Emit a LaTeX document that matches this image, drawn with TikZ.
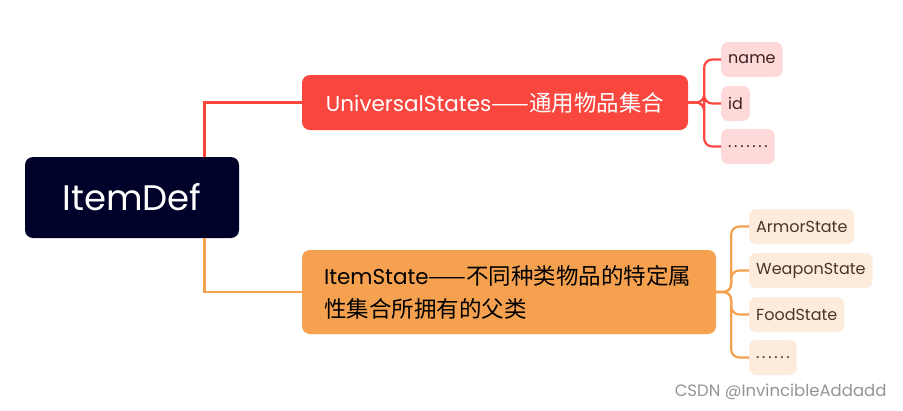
\documentclass[tikz,border=0pt]{standalone}
\usepackage{fontspec}
\setmainfont{Poppins}
\newfontfamily\cjk{Noto Sans CJK SC}
\definecolor{rootblue}{HTML}{000229}
\definecolor{redmain}{HTML}{F9473F}
\definecolor{orangemain}{HTML}{F5A14F}
\definecolor{pinkleaf}{HTML}{FFD9D9}
\definecolor{peachleaf}{HTML}{FDEBDC}
\definecolor{leaftext}{HTML}{3B2020}
\definecolor{leaftextb}{HTML}{4A3526}
\newcommand{\cjktext}[1]{{\cjk\fontsize{22.5}{33}\selectfont #1}}
\begin{document}
\begin{tikzpicture}[x=1pt, y=-1pt,
	box/.style={rounded corners=8pt, inner sep=0pt},
	rootbox/.style={box, fill=rootblue, text=white, font=\fontsize{35.5}{40}\selectfont},
	redbox/.style={box, fill=redmain, text=white, font=\fontsize{21.5}{24}\selectfont},
	orangebox/.style={box, fill=orangemain, text=black, font=\fontsize{21.5}{33}\selectfont},
	leafbox/.style={rounded corners=7pt, inner xsep=7pt, inner ysep=0pt, minimum height=35pt, anchor=west, font=\fontsize{16}{18}\selectfont},
	pinkleafbox/.style={leafbox, fill=pinkleaf, text=leaftext},
	peachleafbox/.style={leafbox, fill=peachleaf, text=leaftextb},
	redline/.style={draw=redmain, line width=2.6pt},
	orangeline/.style={draw=orangemain, line width=2.6pt}]
	\useasboundingbox (0,0) rectangle (903,410);

	% 根节点与两个主分支
	\node[rootbox, minimum width=214pt, minimum height=81pt] (root) at (132,197.5) {ItemDef};
	\node[redbox, minimum width=386pt, minimum height=55pt] (univ) at (495,102.5) {UniversalStates\cjktext{——通用物品集合}};
	\node[orangebox, minimum width=414pt, minimum height=84pt, text width=370pt, align=left] (state) at (509,292)
		{ItemState\cjktext{——不同种类物品的特定属}\\\cjktext{性集合所拥有的父类}};

	% 根到主分支的连线
	\draw[redline] ([xshift=-35pt]root.north east) |- (univ.west);
	\draw[orangeline] ([xshift=-35pt]root.south east) |- (state.west);

	% 通用属性子节点
	\node[pinkleafbox] (name) at (721,59.5) {name};
	\node[pinkleafbox] (id) at (721,103.5) {id};
	\node[pinkleafbox, minimum width=50pt] (udots) at (721,146.5) {.\,.\,.\,.\,.\,.\,.};
	\foreach \leaf in {name,id,udots}
		\draw[redline, line width=2.2pt, rounded corners=8pt] (univ.east) -- ([xshift=16pt]univ.east) |- (\leaf.west);

	% 特定状态子类
	\node[peachleafbox] (armor) at (749,226.5) {ArmorState};
	\node[peachleafbox] (weapon) at (749,270.5) {WeaponState};
	\node[peachleafbox] (food) at (749,314.5) {FoodState};
	\node[peachleafbox, minimum width=44pt] (sdots) at (749,357.5) {.\,.\,.\,.\,.\,.};
	\foreach \leaf in {armor,weapon,food,sdots}
		\draw[orangeline, line width=2.2pt, rounded corners=8pt] (state.east) -- ([xshift=15pt]state.east) |- (\leaf.west);

	% 水印
	\node[text=black!42, font=\fontsize{16.5}{18}\selectfont, anchor=east] (mark) at (890,392) {CSDN @InvincibleAddadd};
\end{tikzpicture}
\end{document}
